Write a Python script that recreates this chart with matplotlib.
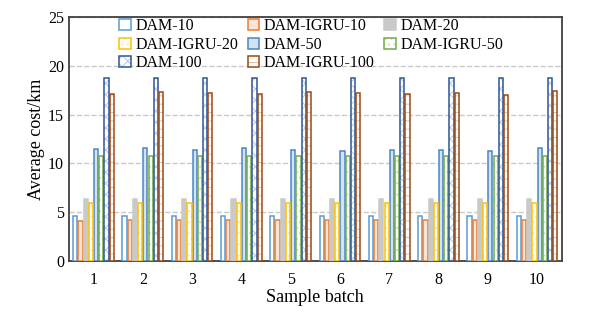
import matplotlib
matplotlib.use('Agg')
from matplotlib import pyplot as plt
import numpy as np

plt.rcParams['font.family'] = ['Liberation Serif', 'DejaVu Serif']
plt.rcParams['hatch.linewidth'] = 0.7

batches = [1, 2, 3, 4, 5, 6, 7, 8, 9, 10]

dam10 = [4.6, 4.6, 4.6, 4.6, 4.6, 4.6, 4.6, 4.6, 4.6, 4.6]
igru10 = [4.1, 4.2, 4.2, 4.2, 4.2, 4.2, 4.2, 4.2, 4.2, 4.2]
dam20 = [6.4, 6.4, 6.4, 6.4, 6.4, 6.4, 6.4, 6.4, 6.4, 6.4]
igru20 = [5.9, 5.9, 5.9, 5.9, 5.9, 5.9, 5.9, 5.9, 5.9, 5.9]
dam50 = [11.5, 11.6, 11.4, 11.6, 11.4, 11.3, 11.4, 11.4, 11.3, 11.6]
igru50 = [10.8, 10.8, 10.8, 10.8, 10.8, 10.8, 10.8, 10.8, 10.8, 10.8]
dam100 = [18.8, 18.8, 18.8, 18.8, 18.8, 18.8, 18.8, 18.8, 18.8, 18.8]
igru100 = [17.1, 17.3, 17.2, 17.1, 17.3, 17.2, 17.1, 17.2, 17.0, 17.4]

# name, values, edge colour, fill colour, hatch, hatch colour
series = [
    ('DAM-10', dam10, '#5B9BD5', 'white', None, None),
    ('DAM-IGRU-10', igru10, '#ED7D31', '#FBE5D6', None, None),
    ('DAM-20', dam20, '#C9C9C9', '#C9C9C9', None, None),
    ('DAM-IGRU-20', igru20, '#FFC000', 'white', '...', '#FFE699'),
    ('DAM-50', dam50, '#4A86C5', '#D5E3F1', None, None),
    ('DAM-IGRU-50', igru50, '#70AD47', 'white', '...', '#C5E0B4'),
    ('DAM-100', dam100, '#2F5597', 'white', 'xxx', '#B4C7E7'),
    ('DAM-IGRU-100', igru100, '#9E480E', 'white', '--', '#E2C0A8'),
]

fig = plt.figure(figsize=(6.04, 3.21), dpi=100)
ax = fig.add_axes([0.114, 0.187, 0.816, 0.760])

x = np.array(batches)
w = 0.106
handles = {}
for i, (name, vals, ec, fc, hatch, hc) in enumerate(series):
    off = (i - 3.5) * w
    if hatch:
        b1 = ax.bar(x + off, vals, width=w * 0.8, color=fc, edgecolor=hc,
                    linewidth=0, hatch=hatch, zorder=3)
        b2 = ax.bar(x + off, vals, width=w * 0.8, fill=False, edgecolor=ec,
                    linewidth=1.1, zorder=4)
        handles[name] = (b1, b2)
    else:
        handles[name] = ax.bar(x + off, vals, width=w * 0.8, color=fc,
                               edgecolor=ec, linewidth=1.1, zorder=3)

order = ['DAM-10', 'DAM-IGRU-20', 'DAM-100', 'DAM-IGRU-10', 'DAM-50',
         'DAM-IGRU-100', 'DAM-20', 'DAM-IGRU-50']
ax.legend([handles[n] for n in order], order, ncol=3, loc='upper left',
          bbox_to_anchor=(0.08, 1.04), frameon=False, fontsize=11.5,
          handlelength=0.7, handleheight=0.7, handletextpad=0.3,
          labelspacing=0.15, columnspacing=0.6, borderpad=0.2)

ax.set_xlim(0.5, 10.5)
ax.set_ylim(0, 25)
ax.set_yticks([0, 5, 10, 15, 20, 25])
ax.set_xticks(batches)
ax.tick_params(length=0, labelsize=11.5)
ax.tick_params(axis='x', pad=8)
ax.yaxis.grid(True, linestyle='--', color='#C8C8C8', linewidth=1, zorder=0)
for s in ax.spines.values():
    s.set_color('#404040')
    s.set_linewidth(1.3)

ax.set_xlabel('Sample batch', fontsize=13, labelpad=1)
ax.set_ylabel('Average cost/km', fontsize=13, labelpad=2)

fig.savefig('out.png', dpi=100)
